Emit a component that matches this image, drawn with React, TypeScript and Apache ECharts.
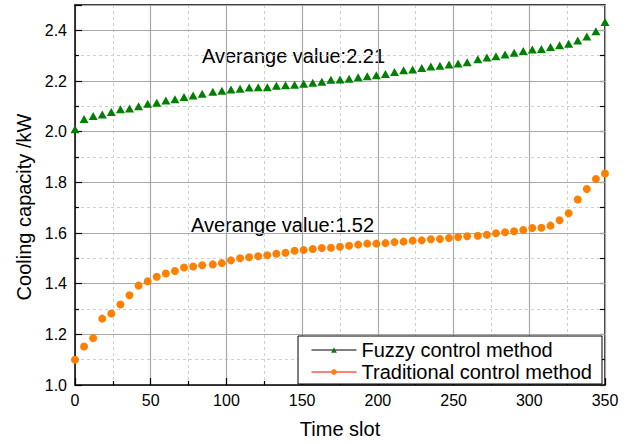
import React, { useEffect, useRef } from "react";
import * as echarts from "echarts";

const timeSlots = [
  0, 6, 12, 18, 24, 30, 36, 42, 48, 54, 60, 66, 72, 78, 84, 91, 97, 103, 109, 115,
  121, 127, 133, 139, 145, 151, 157, 163, 169, 175, 181, 187, 193, 199, 205, 211,
  217, 223, 229, 235, 241, 247, 253, 259, 266, 272, 278, 284, 290, 296, 302, 308,
  314, 320, 326, 332, 338, 344, 350,
];

const fuzzyValues = [
  2.01, 2.05, 2.062, 2.068, 2.078, 2.088, 2.091, 2.1, 2.11, 2.114,
  2.123, 2.128, 2.137, 2.143, 2.15, 2.158, 2.162, 2.166, 2.169, 2.174,
  2.175, 2.175, 2.181, 2.183, 2.185, 2.189, 2.193, 2.197, 2.205, 2.206,
  2.209, 2.215, 2.219, 2.223, 2.228, 2.236, 2.242, 2.245, 2.251, 2.257,
  2.26, 2.265, 2.269, 2.274, 2.286, 2.293, 2.298, 2.305, 2.312, 2.318,
  2.324, 2.326, 2.334, 2.341, 2.347, 2.36, 2.376, 2.396, 2.433,
];

const traditionalValues = [
  1.1, 1.152, 1.185, 1.262, 1.282, 1.318, 1.354, 1.393, 1.409, 1.427,
  1.44, 1.45, 1.464, 1.468, 1.473, 1.476, 1.481, 1.492, 1.5, 1.504,
  1.508, 1.512, 1.518, 1.522, 1.53, 1.533, 1.537, 1.541, 1.542, 1.546,
  1.55, 1.554, 1.558, 1.558, 1.56, 1.564, 1.566, 1.57, 1.571, 1.575,
  1.576, 1.58, 1.584, 1.587, 1.589, 1.593, 1.599, 1.603, 1.607, 1.612,
  1.62, 1.621, 1.629, 1.65, 1.678, 1.732, 1.774, 1.813, 1.835,
];

const seriesNames = ["Fuzzy control method", "Traditional control method"];
const annotationTexts = ["Averange value:2.21", "Averange value:1.52"];
const xAxisName = "Time slot";
const yAxisName = "Cooling capacity /kW";

const FONT = "Arial, 'Liberation Sans', sans-serif";

export default function App() {
  const ref = useRef<HTMLDivElement>(null);

  useEffect(() => {
    if (!ref.current) return;
    const chart = echarts.init(ref.current, null, { renderer: "svg" });
    const black = "#000";
    const major = "#a8a8a8";
    const minor = "#cfcfcf";

    chart.setOption({
      animation: false,
      backgroundColor: "#fff",
      grid: { left: 75, right: 25, top: 5, bottom: 58, show: false },
      xAxis: [
        {
          type: "value",
          min: 0,
          max: 350,
          interval: 50,
          position: "bottom",
          z: 1,
          axisLine: { show: true, onZero: false, lineStyle: { color: black, width: 1.5 } },
          axisTick: { show: true, inside: true, length: 7, lineStyle: { color: black, width: 1.2 } },
          minorTick: { show: true, splitNumber: 2, length: 4, lineStyle: { color: black, width: 1.2 } },
          splitLine: { show: true, lineStyle: { color: major, width: 1.2 } },
          axisLabel: { color: black, fontSize: 16, margin: 7, fontFamily: FONT },
          name: xAxisName,
          nameLocation: "middle",
          nameGap: 34,
          nameTextStyle: { color: black, fontSize: 20, fontFamily: FONT },
        },
        {
          type: "value",
          min: 0,
          max: 350,
          interval: 25,
          position: "top",
          z: 0,
          axisLine: { show: true, onZero: false, lineStyle: { color: black, width: 1.5 } },
          axisTick: { show: false },
          axisLabel: { show: false },
          splitLine: { show: true, lineStyle: { color: minor, width: 1, type: [3, 3] } },
        },
      ],
      yAxis: [
        {
          type: "value",
          min: 1.0,
          max: 2.5,
          interval: 0.2,
          position: "left",
          z: 1,
          axisLine: { show: true, onZero: false, lineStyle: { color: black, width: 1.5 } },
          axisTick: { show: true, inside: true, length: 7, lineStyle: { color: black, width: 1.2 } },
          minorTick: { show: true, splitNumber: 2, length: 4, lineStyle: { color: black, width: 1.2 } },
          splitLine: { show: true, lineStyle: { color: major, width: 1.2 } },
          axisLabel: {
            color: black,
            fontSize: 16,
            margin: 8,
            fontFamily: FONT,
            showMaxLabel: false,
            formatter: (v: number) => v.toFixed(1),
          },
          name: yAxisName,
          nameLocation: "middle",
          nameGap: 40,
          nameTextStyle: { color: black, fontSize: 20, fontFamily: FONT, padding: [0, 24, 0, 0] },
        },
        {
          type: "value",
          min: 1.0,
          max: 2.5,
          interval: 0.1,
          position: "right",
          z: 0,
          axisLine: { show: true, onZero: false, lineStyle: { color: black, width: 1.5 } },
          axisTick: { show: true, inside: true, length: 5, lineStyle: { color: black, width: 1.2 } },
          axisLabel: { show: false },
          splitLine: { show: true, lineStyle: { color: minor, width: 1, type: [3, 3] } },
        },
      ],
      legend: {
        orient: "vertical",
        left: 298,
        top: 336,
        padding: [4, 10, 2, 13],
        itemWidth: 45,
        itemHeight: 7,
        itemGap: 2,
        backgroundColor: "#fff",
        borderColor: black,
        borderWidth: 1,
        borderRadius: 0,
        selectedMode: false,
        textStyle: { color: black, fontSize: 20, fontFamily: FONT },
        data: [
          { name: seriesNames[0], lineStyle: { color: black, width: 1, opacity: 1 } },
          { name: seriesNames[1], lineStyle: { color: "#ff0000", width: 1, opacity: 1 } },
        ],
      },
      graphic: [
        {
          type: "text",
          left: 202,
          top: 46,
          style: { text: annotationTexts[0], fill: black, fontSize: 20, fontFamily: FONT },
        },
        {
          type: "text",
          left: 191,
          top: 215,
          style: { text: annotationTexts[1], fill: black, fontSize: 20, fontFamily: FONT },
        },
      ],
      series: [
        {
          type: "line",
          name: seriesNames[0],
          xAxisIndex: 0,
          yAxisIndex: 0,
          data: timeSlots.map((x, i) => [x, fuzzyValues[i]]),
          symbol: "triangle",
          symbolSize: [9, 8],
          showSymbol: true,
          showAllSymbol: true,
          clip: false,
          lineStyle: { width: 0, opacity: 0, color: black },
          itemStyle: { color: "#008000" },
          emphasis: { disabled: true },
          silent: true,
          z: 3,
        },
        {
          type: "line",
          name: seriesNames[1],
          xAxisIndex: 0,
          yAxisIndex: 0,
          data: timeSlots.map((x, i) => [x, traditionalValues[i]]),
          symbol: "circle",
          symbolSize: 8,
          showSymbol: true,
          showAllSymbol: true,
          clip: false,
          lineStyle: { width: 0, opacity: 0, color: "#ff0000" },
          itemStyle: { color: "#ff8000" },
          emphasis: { disabled: true },
          silent: true,
          z: 3,
        },
      ],
    });

    return () => chart.dispose();
  }, []);

  return (
    <div
      ref={ref}
      style={{ position: "absolute", left: 0, top: 0, width: 630, height: 444 }}
    />
  );
}
